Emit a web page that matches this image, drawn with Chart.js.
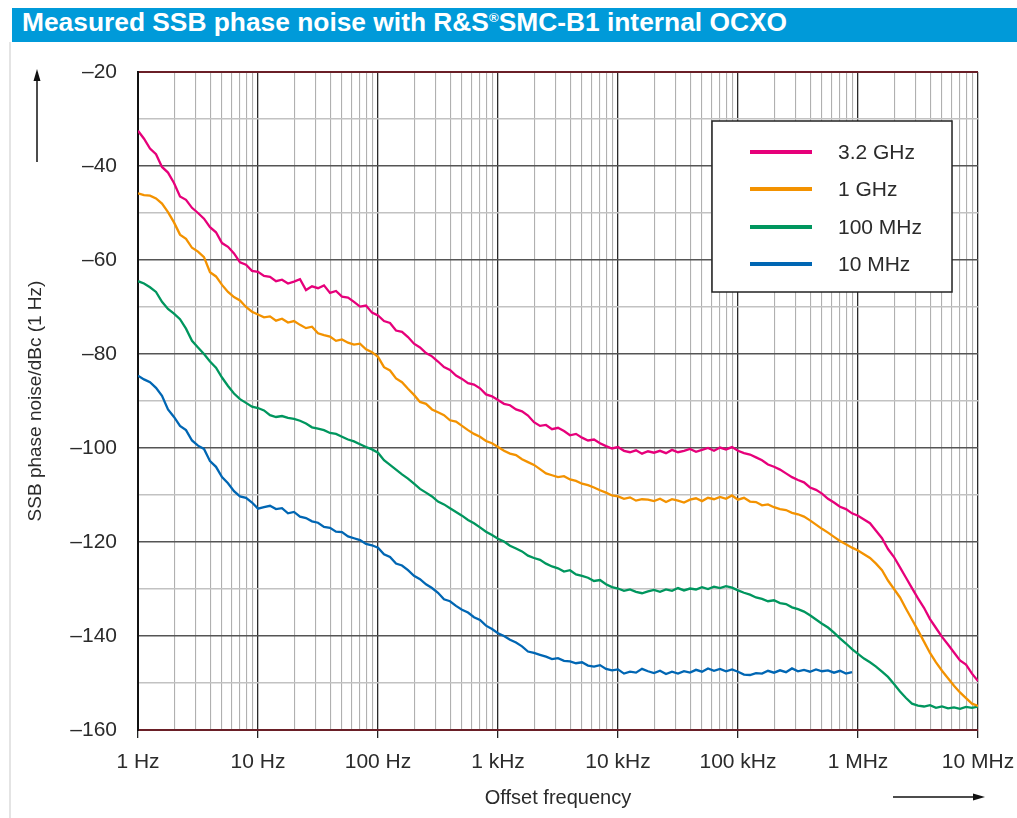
<!DOCTYPE html>
<html>
<head>
<meta charset="utf-8">
<script src="https://cdn.jsdelivr.net/npm/chart.js@4.4.1/dist/chart.umd.min.js"></script>
<style>
  html, body { margin:0; padding:0; background:#fff; }
  body { width:1017px; height:818px; position:relative; overflow:hidden; }
  #bar { position:absolute; left:12px; top:8px; width:1005px; height:34px; background:#009ad9; }
  #ttl { position:absolute; left:10px; top:0; line-height:34px; height:34px; white-space:nowrap;
         font:bold 25px "Liberation Sans", Arial, sans-serif; color:#fff; transform-origin:left center; display:inline-block; }
  #ttl sup { font-size:0.5em; vertical-align:0.75em; line-height:0; }
  #panel { position:absolute; left:9px; top:42px; width:2px; height:776px; background:#e4e4e4; }
  #c { position:absolute; left:0; top:0; }
</style>
</head>
<body>
<div id="bar"><span id="ttl">Measured SSB phase noise with R&amp;S<sup>®</sup>SMC-B1 internal OCXO</span></div>
<div id="panel"></div>
<canvas id="c" width="1017" height="818" style="width:1017px;height:818px"></canvas>
<script>
// ---------------- DATA ----------------
const seriesLabels = ['3.2 GHz', '1 GHz', '100 MHz', '10 MHz'];
const seriesColors = ['#e6007a', '#f39200', '#00965e', '#0066b3'];
const xTickLabels = ['1 Hz', '10 Hz', '100 Hz', '1 kHz', '10 kHz', '100 kHz', '1 MHz', '10 MHz'];
const xTickValues = [1, 10, 100, 1e3, 1e4, 1e5, 1e6, 1e7];
const yTickValues = [-20, -40, -60, -80, -100, -120, -140, -160];

const freqs = [
  1,1.122,1.259,1.413,1.585,1.778,1.995,2.239,2.512,2.818,3.162,3.548,3.981,4.467,5.012,5.623,6.310,7.079,7.943,8.913,
  10,11.22,12.59,14.13,15.85,17.78,19.95,22.39,25.12,28.18,31.62,35.48,39.81,44.67,50.12,56.23,63.10,70.79,79.43,89.13,
  100,112.2,125.9,141.3,158.5,177.8,199.5,223.9,251.2,281.8,316.2,354.8,398.1,446.7,501.2,562.3,631.0,707.9,794.3,891.3,
  1000,1122,1259,1413,1585,1778,1995,2239,2512,2818,3162,3548,3981,4467,5012,5623,6310,7079,7943,8913,
  10000,11220,12590,14130,15850,17780,19950,22390,25120,28180,31620,35480,39810,44670,50120,56230,63100,70790,79430,89130,
  100000,112200,125900,141300,158500,177800,199500,223900,251200,281800,316200,354800,398100,446700,501200,562300,631000,707900,794300,891300,
  1e6,1.122e6,1.259e6,1.413e6,1.585e6,1.778e6,1.995e6,2.239e6,2.512e6,2.818e6,3.162e6,3.548e6,3.981e6,4.467e6,5.012e6,5.623e6,6.310e6,7.079e6,7.943e6,8.913e6,
  1e7
];

const noise32GHz = [
  -32.5,-34.2,-36.3,-37.5,-40.2,-41.4,-43.6,-46.5,-47.2,-48.9,-50.0,-51.2,-53.0,-54.1,-56.4,-57.2,-58.6,-60.5,-61.0,-62.3,
  -62.5,-63.4,-63.6,-64.5,-64.2,-65.0,-64.6,-64.1,-66.4,-65.6,-66.0,-65.4,-67.0,-66.6,-67.8,-68.0,-68.9,-69.9,-69.7,-71.2,
  -71.8,-73.0,-73.4,-75.0,-75.3,-76.4,-77.8,-78.6,-79.8,-80.5,-81.6,-82.8,-83.4,-84.6,-85.3,-86.2,-86.5,-87.3,-88.6,-89.0,
  -89.8,-90.6,-90.9,-91.8,-92.2,-93.1,-94.5,-95.3,-95.1,-96.0,-95.7,-96.4,-97.3,-97.0,-97.8,-98.4,-98.2,-99.0,-99.6,-100.1,
  -99.8,-100.6,-100.9,-100.5,-101.2,-100.7,-101.0,-100.6,-101.1,-100.4,-100.9,-100.6,-100.2,-100.8,-100.4,-100.0,-100.6,-99.9,-100.3,-99.8,
  -100.6,-101.1,-101.4,-102.0,-102.6,-103.5,-104.0,-104.6,-105.4,-106.2,-106.8,-107.3,-108.4,-108.9,-109.7,-110.8,-111.6,-112.5,-113.0,-113.9,
  -114.4,-115.2,-116.0,-117.6,-119.2,-121.5,-123.2,-125.4,-127.6,-129.8,-132.0,-134.0,-136.4,-138.3,-140.2,-141.8,-143.5,-145.2,-146.1,-148.0,
  -149.6
];

const noise1GHz = [
  -45.8,-46.2,-46.3,-46.9,-48.0,-49.8,-52.0,-54.6,-55.5,-57.4,-58.2,-59.4,-62.6,-63.5,-65.3,-66.8,-67.9,-68.6,-70.0,-71.0,
  -71.6,-72.2,-72.0,-72.9,-72.5,-73.3,-73.0,-73.8,-74.5,-74.2,-75.6,-76.0,-76.3,-77.2,-76.9,-77.6,-78.0,-77.8,-79.0,-79.6,
  -80.6,-82.8,-83.5,-85.2,-86.0,-87.4,-88.7,-90.2,-90.6,-91.8,-92.4,-93.0,-94.1,-94.4,-95.3,-96.2,-97.0,-97.6,-98.5,-99.0,
  -99.8,-100.6,-101.2,-101.5,-102.4,-103.0,-103.6,-104.5,-105.4,-105.8,-106.2,-106.0,-106.7,-107.0,-107.6,-107.9,-108.4,-109.0,-109.5,-110.1,
  -110.3,-110.8,-110.5,-111.2,-110.9,-111.0,-111.3,-110.8,-111.5,-110.9,-111.2,-111.6,-111.0,-110.7,-111.3,-110.6,-110.9,-110.4,-110.8,-110.1,
  -111.0,-110.6,-111.4,-111.5,-112.2,-112.0,-112.6,-113.0,-113.2,-113.8,-114.1,-114.6,-115.4,-116.3,-117.2,-118.0,-118.9,-119.8,-120.5,-121.2,
  -121.8,-122.6,-123.4,-124.6,-126.0,-128.2,-130.0,-131.8,-134.2,-136.5,-138.8,-141.2,-143.6,-145.6,-147.4,-149.0,-150.6,-152.0,-153.2,-154.4,
  -154.9
];

const noise100MHz = [
  -64.5,-65.0,-65.8,-66.8,-68.9,-70.4,-71.4,-72.6,-74.6,-77.2,-78.6,-80.0,-81.6,-82.9,-85.0,-86.8,-88.4,-89.6,-90.4,-91.2,
  -91.5,-92.0,-93.0,-93.4,-93.2,-93.6,-93.8,-94.2,-94.8,-95.6,-95.9,-96.2,-96.8,-97.0,-97.6,-98.2,-98.6,-99.2,-99.8,-100.3,
  -101.0,-102.6,-103.6,-104.6,-105.6,-106.5,-107.6,-108.7,-109.5,-110.3,-111.4,-112.0,-112.8,-113.6,-114.4,-115.3,-116.0,-116.9,-117.8,-118.5,
  -119.3,-119.9,-120.8,-121.4,-122.0,-122.9,-123.4,-123.8,-124.6,-125.2,-125.6,-126.3,-126.0,-126.9,-127.2,-127.6,-128.3,-128.1,-129.0,-129.6,
  -129.9,-130.4,-130.1,-130.6,-130.9,-130.5,-130.2,-130.6,-130.1,-130.4,-129.8,-130.3,-129.9,-130.1,-129.6,-130.0,-129.5,-129.8,-129.4,-129.7,
  -130.3,-130.8,-131.2,-131.8,-132.1,-132.6,-132.4,-133.0,-133.2,-133.9,-134.3,-134.8,-135.6,-136.5,-137.4,-138.2,-139.3,-140.5,-141.6,-142.8,
  -143.8,-144.8,-145.6,-146.5,-147.6,-148.7,-150.2,-151.8,-153.2,-154.4,-154.8,-155.0,-154.7,-155.3,-155.0,-155.4,-155.2,-155.5,-155.1,-155.3,
  -155.0
];

const noise10MHz = [
  -84.6,-85.4,-86.0,-87.2,-88.9,-91.8,-93.4,-95.3,-96.2,-98.4,-99.5,-100.2,-102.8,-104.0,-106.2,-107.5,-109.2,-110.3,-110.6,-111.6,
  -112.9,-112.6,-112.3,-113.0,-112.8,-113.9,-113.6,-114.6,-114.9,-115.6,-115.9,-116.8,-117.0,-117.8,-117.9,-118.8,-119.2,-119.6,-120.4,-120.7,
  -121.2,-122.6,-123.2,-124.6,-125.0,-126.0,-127.2,-127.9,-129.0,-129.8,-130.8,-132.2,-132.6,-133.6,-134.4,-135.0,-136.0,-136.6,-137.8,-138.5,
  -139.4,-140.0,-140.8,-141.4,-142.2,-143.3,-143.6,-144.0,-144.4,-144.9,-144.7,-145.3,-145.4,-145.8,-145.6,-146.3,-146.5,-146.2,-147.0,-147.3,
  -147.1,-148.0,-147.6,-147.8,-147.0,-147.5,-147.9,-147.4,-148.1,-147.6,-148.0,-147.5,-147.8,-147.2,-147.6,-146.9,-147.4,-147.0,-147.5,-147.1,
  -147.6,-148.2,-148.3,-147.9,-148.0,-147.4,-147.8,-147.3,-147.7,-146.9,-147.5,-147.2,-147.6,-147.1,-147.5,-147.3,-147.8,-147.4,-148.0,-147.7
];

const seriesValues = [noise32GHz, noise1GHz, noise100MHz, noise10MHz];

// ---------------- TITLE FIT ----------------
(function(){
  const t = document.getElementById('ttl');
  const w = t.getBoundingClientRect().width;
  t.style.transform = 'scaleX(' + (765 / w) + ')';
})();

// ---------------- HELPERS ----------------
const isDecade = v => Math.abs(Math.log10(v) - Math.round(Math.log10(v))) < 1e-9;
const TXT = '#2b2b2b';
const FONT = '"Liberation Sans", Arial, sans-serif';
const MAROON = '#6a1f27';

const legendPlugin = {
  id: 'boxLegend',
  afterDatasetsDraw(chart) {
    const c = chart.ctx;
    c.save();
    c.fillStyle = '#fff';
    c.fillRect(712, 121, 240, 171);
    c.strokeStyle = '#222';
    c.lineWidth = 1.5;
    c.strokeRect(712, 121, 240, 171);
    const ys = [152, 189, 227, 264];
    chart.data.datasets.forEach((ds, i) => {
      c.strokeStyle = ds.borderColor;
      c.lineWidth = 4;
      c.beginPath();
      c.moveTo(750, ys[i]);
      c.lineTo(812, ys[i]);
      c.stroke();
      c.fillStyle = TXT;
      c.font = '21px ' + FONT;
      c.textAlign = 'left';
      c.textBaseline = 'middle';
      c.fillText(ds.label, 838, ys[i] + 1);
    });
    c.restore();
  }
};

const arrowPlugin = {
  id: 'axisArrows',
  afterDraw(chart) {
    const c = chart.ctx;
    c.save();
    c.strokeStyle = '#111';
    c.fillStyle = '#111';
    c.lineWidth = 1.5;
    c.beginPath(); c.moveTo(37, 162); c.lineTo(37, 80); c.stroke();
    c.beginPath(); c.moveTo(37, 69); c.lineTo(33.5, 81); c.lineTo(40.5, 81); c.closePath(); c.fill();
    c.beginPath(); c.moveTo(893, 797); c.lineTo(974, 797); c.stroke();
    c.beginPath(); c.moveTo(985, 797); c.lineTo(973, 793.5); c.lineTo(973, 800.5); c.closePath(); c.fill();
    c.restore();
  }
};

const datasets = seriesLabels.map((lab, i) => ({
  label: lab,
  data: freqs.map((f, k) => ({ x: f, y: seriesValues[i][k] === undefined ? null : seriesValues[i][k] })),
  borderColor: seriesColors[i],
  backgroundColor: seriesColors[i],
  borderWidth: 2.3,
  pointRadius: 0,
  tension: 0,
  spanGaps: false,
  fill: false
}));

new Chart(document.getElementById('c'), {
  type: 'line',
  data: { datasets: datasets },
  plugins: [legendPlugin, arrowPlugin],
  options: {
    responsive: false,
    animation: false,
    layout: { padding: { top: 72, right: 39, bottom: 0, left: 0 } },
    plugins: { legend: { display: false }, tooltip: { enabled: false }, title: { display: false } },
    scales: {
      x: {
        type: 'logarithmic',
        min: 1, max: 1e7,
        afterBuildTicks: s => {
          const t = [];
          xTickValues.forEach((d, i) => {
            if (i === xTickValues.length - 1) { t.push({ value: d }); return; }
            for (let m = 1; m <= 9; m++) t.push({ value: d * m });
          });
          s.ticks = t;
        },
        afterFit: s => { s.height = 88; s.paddingLeft = 0; s.paddingRight = 0; },
        ticks: {
          autoSkip: false, maxRotation: 0, minRotation: 0, padding: 12,
          color: TXT, font: { family: FONT, size: 21 },
          callback: v => { const k = xTickValues.findIndex(d => Math.abs(d - v) / d < 1e-9); return k >= 0 ? xTickLabels[k] : ''; }
        },
        grid: {
          drawTicks: true, tickLength: 8,
          color: c => isDecade(c.tick.value) ? '#2a2a2a' : '#b0b0b0',
          lineWidth: c => isDecade(c.tick.value) ? 1.3 : 1.1,
          tickColor: c => isDecade(c.tick.value) ? '#222' : 'rgba(0,0,0,0)',
          tickWidth: 1.3
        },
        border: { display: true, color: MAROON, width: 2 },
        title: { display: true, text: 'Offset frequency', color: TXT, font: { family: FONT, size: 20 }, padding: { top: 0, bottom: 8 } }
      },
      y: {
        min: -160, max: -20,
        afterBuildTicks: s => {
          const t = [];
          for (let v = -160; v <= -20; v += 10) t.push({ value: v });
          s.ticks = t;
        },
        afterFit: s => { s.width = 138; },
        ticks: {
          padding: 21, color: TXT, font: { family: FONT, size: 21 },
          callback: v => yTickValues.includes(v) ? '\u2013' + Math.abs(v) : ''
        },
        grid: {
          drawTicks: false,
          color: c => { const v = c.tick.value; if (v === -20 || v === -160) return MAROON; return (v % 20 === 0) ? '#555' : '#c2c2c2'; },
          lineWidth: c => { const v = c.tick.value; return (v === -20 || v === -160) ? 2 : 1.4; }
        },
        border: { display: true, color: '#111', width: 2 },
        title: { display: true, text: 'SSB phase noise/dBc (1 Hz)', color: TXT, font: { family: FONT, size: 19 }, padding: { top: 24, bottom: 0 } }
      }
    }
  }
});
</script>
</body>
</html>
